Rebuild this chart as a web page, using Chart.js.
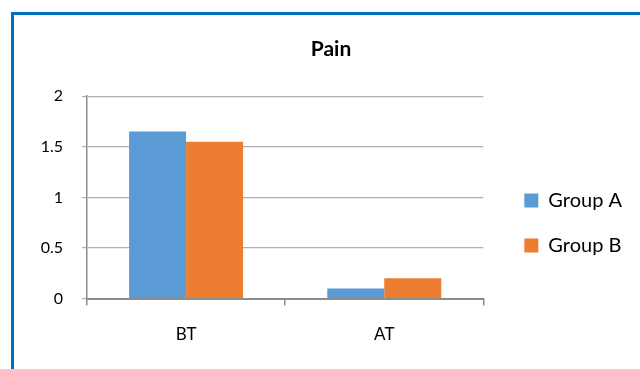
<!DOCTYPE html>
<html>
<head>
<meta charset="utf-8">
<title>Pain</title>
<script src="https://cdn.jsdelivr.net/npm/chart.js@4/dist/chart.umd.min.js"></script>
<style>
  html, body { margin: 0; padding: 0; background: #ffffff; overflow: hidden; }
  #wrap { position: relative; width: 640px; height: 369px; overflow: hidden; background: #ffffff; }
  #chart { position: absolute; left: 0; top: 0; }
  #frame {
    position: absolute; left: 11px; top: 12px; width: 660px; height: 420px;
    border: 3px solid #0070C0; box-sizing: border-box; pointer-events: none;
  }
</style>
</head>
<body>
<div id="wrap">
  <canvas id="chart" width="640" height="369"></canvas>
  <div id="frame"></div>
</div>
<script>
// Pain scores before (BT) and after (AT) treatment
const categories = ['BT', 'AT'];
const groupA = [1.65, 0.1];
const groupB = [1.55, 0.2];
const seriesNames = ['Group A', 'Group B'];
const seriesColors = ['#5B9BD5', '#ED7D31'];
const yTicks = [0, 0.5, 1, 1.5, 2];

// Shifts the title and the right-hand legend sideways inside their boxes
const boxNudge = {
  id: 'boxNudge',
  afterLayout(chart, args, opts) {
    const lg = chart.legend;
    if (lg) { lg.left += opts.legendDx; lg.right += opts.legendDx; }
    const tt = chart.titleBlock;
    if (tt) { tt.left += opts.titleDx; tt.right += opts.titleDx; }
  }
};

function draw() {
  Chart.defaults.font.family = 'Lato, "Open Sans", sans-serif';
  Chart.defaults.color = '#1a1a1a';

  new Chart(document.getElementById('chart'), {
    type: 'bar',
    data: {
      labels: categories,
      datasets: [
        { label: seriesNames[0], data: groupA, backgroundColor: seriesColors[0], borderWidth: 0 },
        { label: seriesNames[1], data: groupB, backgroundColor: seriesColors[1], borderWidth: 0 }
      ]
    },
    options: {
      responsive: false,
      animation: false,
      devicePixelRatio: 1,
      categoryPercentage: 0.575,
      barPercentage: 1,
      layout: { padding: { left: 30, top: 0, right: 24, bottom: 5 } },
      plugins: {
        tooltip: { enabled: false },
        title: {
          display: true,
          text: 'Pain',
          color: '#000000',
          font: { size: 21, weight: 'bold' },
          padding: { top: 37, bottom: 34 }
        },
        legend: {
          display: true,
          position: 'right',
          align: 'start',
          title: { display: true, text: '', font: { size: 12 }, padding: { top: 151, bottom: 0 } },
          labels: {
            boxWidth: 14,
            boxHeight: 14,
            padding: 25,
            color: '#000000',
            font: { size: 20 }
          }
        },
        boxNudge: { legendDx: 16, titleDx: 8 }
      },
      scales: {
        x: {
          offset: true,
          grid: {
            offset: true,
            drawOnChartArea: false,
            drawTicks: true,
            tickLength: 7,
            color: '#8c8c8c',
            lineWidth: 1.5
          },
          border: { display: true, color: '#8c8c8c', width: 2 },
          ticks: { font: { size: 17 }, padding: 19, color: '#000000' }
        },
        y: {
          min: 0,
          max: 2,
          afterFit(scale) { scale.width = 57; },
          afterBuildTicks(scale) { scale.ticks = yTicks.map(v => ({ value: v })); },
          grid: {
            color: '#b0b0b0',
            lineWidth: 1.2,
            tickLength: 5,
            tickColor: '#b0b0b0'
          },
          border: { display: true, color: '#8c8c8c', width: 1.5 },
          ticks: {
            font: { size: 16 },
            padding: 19,
            color: '#000000',
            callback: (value) => String(value)
          }
        }
      }
    },
    plugins: [boxNudge]
  });
}

if (document.fonts && document.fonts.load) {
  Promise.all([
    document.fonts.load('16px Lato'),
    document.fonts.load('bold 21px Lato')
  ]).then(draw, draw);
} else {
  draw();
}
</script>
</body>
</html>
